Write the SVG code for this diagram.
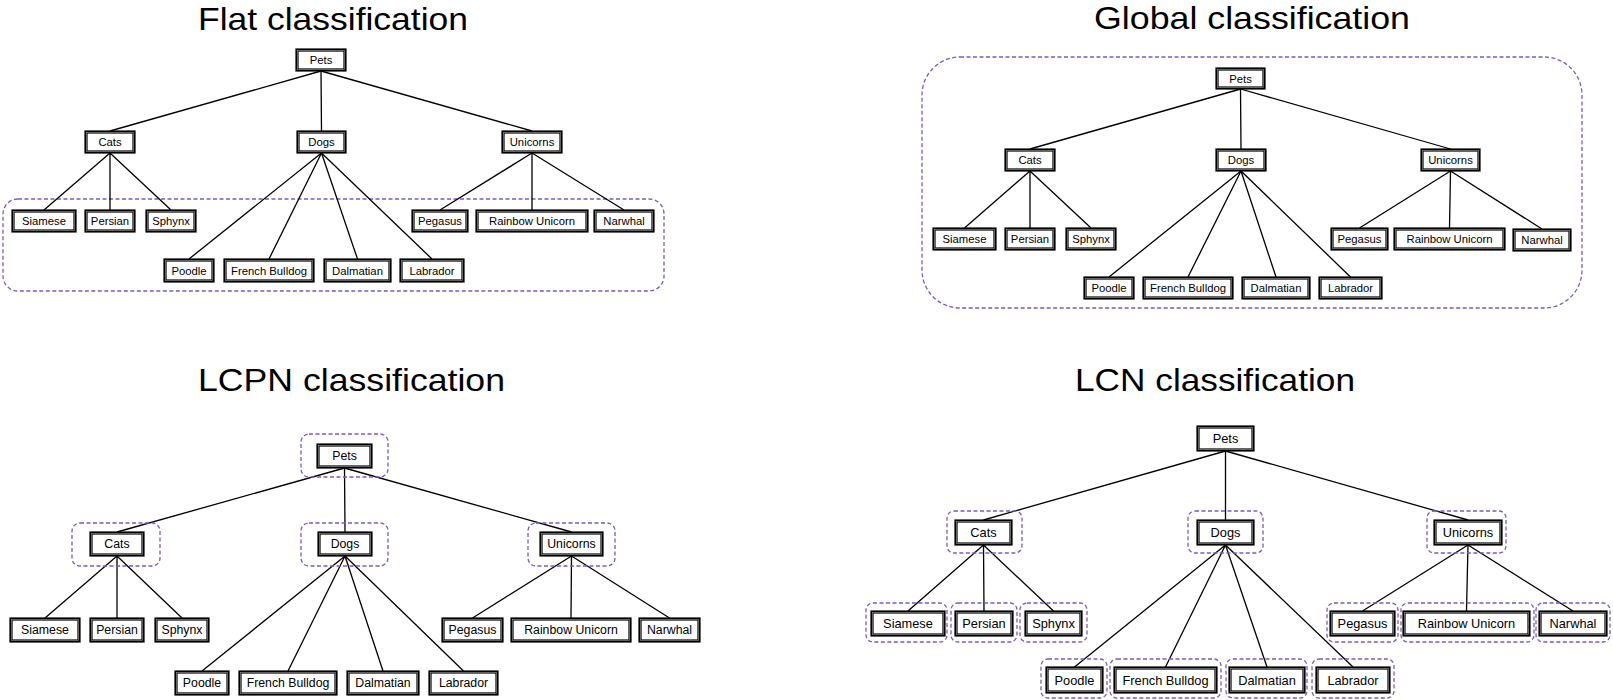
<svg xmlns="http://www.w3.org/2000/svg" width="1613" height="700" viewBox="0 0 1613 700">
<style>
.bg{fill:#fff}
.title{font-family:"Liberation Sans",Arial,sans-serif;font-size:32px;fill:#000;text-anchor:middle}
.bo{fill:#fff;stroke:#000;stroke-width:3.2}
.bi{fill:none;stroke:#8a8a8a;stroke-width:0.7}
.t{font-family:"Liberation Sans",Arial,sans-serif;fill:#000;text-anchor:middle}
.s11{font-size:11.3px}.s12{font-size:12.3px}.s125{font-size:12.8px}
.ln{stroke:#000;stroke-width:1.3;fill:none}
.dash{fill:none;stroke:#7b58c6;stroke-width:1.3;stroke-dasharray:4 2.5}
</style>
<rect class="bg" x="0" y="0" width="1613" height="700"/>

<!-- ===== Flat ===== -->
<text class="title" x="333" y="29.5" textLength="270" lengthAdjust="spacingAndGlyphs">Flat classification</text>
<g id="flat-leaf-set"><rect class="dash" x="3" y="199" width="661" height="92" rx="15"/></g>
<g id="flat-connectors">
<path class="ln" d="M321,71L110,131M321,71L321.5,131M321,71L532,131M110,153L44,210M110,153L110,210M110,153L171,210M321.5,153L189,259M321.5,153L269,259M321.5,153L357.5,259M321.5,153L432,259M532,153L440,210M532,153L532,210M532,153L624,210"/>
</g>
<g id="flat-pets"><rect class="bo" x="297" y="50" width="48" height="20"/><rect class="bi" x="297.6" y="50.6" width="46.8" height="18.8"/><text class="t s11" x="321" y="64">Pets</text></g>
<g id="flat-cats"><rect class="bo" x="86" y="132" width="48" height="20"/><rect class="bi" x="86.6" y="132.6" width="46.8" height="18.8"/><text class="t s11" x="110" y="146">Cats</text></g>
<g id="flat-dogs"><rect class="bo" x="298" y="132" width="47" height="20"/><rect class="bi" x="298.6" y="132.6" width="45.8" height="18.8"/><text class="t s11" x="321.5" y="146">Dogs</text></g>
<g id="flat-unicorns"><rect class="bo" x="503" y="132" width="58" height="20"/><rect class="bi" x="503.6" y="132.6" width="56.8" height="18.8"/><text class="t s11" x="532" y="146">Unicorns</text></g>
<g id="flat-siamese"><rect class="bo" x="13" y="211" width="62" height="20"/><rect class="bi" x="13.6" y="211.6" width="60.8" height="18.8"/><text class="t s11" x="44" y="225">Siamese</text></g>
<g id="flat-persian"><rect class="bo" x="86" y="211" width="48" height="20"/><rect class="bi" x="86.6" y="211.6" width="46.8" height="18.8"/><text class="t s11" x="110" y="225">Persian</text></g>
<g id="flat-sphynx"><rect class="bo" x="147" y="211" width="48" height="20"/><rect class="bi" x="147.6" y="211.6" width="46.8" height="18.8"/><text class="t s11" x="171" y="225">Sphynx</text></g>
<g id="flat-pegasus"><rect class="bo" x="413" y="211" width="54" height="20"/><rect class="bi" x="413.6" y="211.6" width="52.8" height="18.8"/><text class="t s11" x="440" y="225">Pegasus</text></g>
<g id="flat-rainbow"><rect class="bo" x="477" y="211" width="110" height="20"/><rect class="bi" x="477.6" y="211.6" width="108.8" height="18.8"/><text class="t s11" x="532" y="225">Rainbow Unicorn</text></g>
<g id="flat-narwhal"><rect class="bo" x="595" y="211" width="58" height="20"/><rect class="bi" x="595.6" y="211.6" width="56.8" height="18.8"/><text class="t s11" x="624" y="225">Narwhal</text></g>
<g id="flat-poodle"><rect class="bo" x="165" y="260" width="48" height="21"/><rect class="bi" x="165.6" y="260.6" width="46.8" height="19.8"/><text class="t s11" x="189" y="274.5">Poodle</text></g>
<g id="flat-frenchbulldog"><rect class="bo" x="225" y="260" width="88" height="21"/><rect class="bi" x="225.6" y="260.6" width="86.8" height="19.8"/><text class="t s11" x="269" y="274.5">French Bulldog</text></g>
<g id="flat-dalmatian"><rect class="bo" x="325" y="260" width="65" height="21"/><rect class="bi" x="325.6" y="260.6" width="63.8" height="19.8"/><text class="t s11" x="357.5" y="274.5">Dalmatian</text></g>
<g id="flat-labrador"><rect class="bo" x="401" y="260" width="62" height="21"/><rect class="bi" x="401.6" y="260.6" width="60.8" height="19.8"/><text class="t s11" x="432" y="274.5">Labrador</text></g>

<!-- ===== Global ===== -->
<text class="title" x="1252" y="29" textLength="316" lengthAdjust="spacingAndGlyphs">Global classification</text>
<g id="global-set"><rect class="dash" x="922" y="57" width="660" height="251" rx="38"/></g>
<g id="global-connectors">
<path class="ln" d="M1240.5,89L1030,149M1240.5,89L1241,149M1240.5,89L1450.5,149M1030,171L964.5,228M1030,171L1030,228M1030,171L1091,228M1241,171L1109,277M1241,171L1188,277M1241,171L1276,277M1241,171L1350.5,277M1450.5,171L1359.5,228M1450.5,171L1449.5,228M1450.5,171L1542,229"/>
</g>
<g id="global-pets"><rect class="bo" x="1217" y="69" width="47" height="19"/><rect class="bi" x="1217.6" y="69.6" width="45.8" height="17.8"/><text class="t s11" x="1240.5" y="82.5">Pets</text></g>
<g id="global-cats"><rect class="bo" x="1006" y="150" width="48" height="20"/><rect class="bi" x="1006.6" y="150.6" width="46.8" height="18.8"/><text class="t s11" x="1030" y="164">Cats</text></g>
<g id="global-dogs"><rect class="bo" x="1217" y="150" width="48" height="20"/><rect class="bi" x="1217.6" y="150.6" width="46.8" height="18.8"/><text class="t s11" x="1241" y="164">Dogs</text></g>
<g id="global-unicorns"><rect class="bo" x="1422" y="150" width="57" height="20"/><rect class="bi" x="1422.6" y="150.6" width="55.8" height="18.8"/><text class="t s11" x="1450.5" y="164">Unicorns</text></g>
<g id="global-siamese"><rect class="bo" x="934" y="229" width="61" height="20"/><rect class="bi" x="934.6" y="229.6" width="59.8" height="18.8"/><text class="t s11" x="964.5" y="243">Siamese</text></g>
<g id="global-persian"><rect class="bo" x="1006" y="229" width="48" height="20"/><rect class="bi" x="1006.6" y="229.6" width="46.8" height="18.8"/><text class="t s11" x="1030" y="243">Persian</text></g>
<g id="global-sphynx"><rect class="bo" x="1067" y="229" width="48" height="20"/><rect class="bi" x="1067.6" y="229.6" width="46.8" height="18.8"/><text class="t s11" x="1091" y="243">Sphynx</text></g>
<g id="global-pegasus"><rect class="bo" x="1332" y="229" width="55" height="20"/><rect class="bi" x="1332.6" y="229.6" width="53.8" height="18.8"/><text class="t s11" x="1359.5" y="243">Pegasus</text></g>
<g id="global-rainbow"><rect class="bo" x="1395" y="229" width="109" height="20"/><rect class="bi" x="1395.6" y="229.6" width="107.8" height="18.8"/><text class="t s11" x="1449.5" y="243">Rainbow Unicorn</text></g>
<g id="global-narwhal"><rect class="bo" x="1514" y="230" width="56" height="20"/><rect class="bi" x="1514.6" y="230.6" width="54.8" height="18.8"/><text class="t s11" x="1542" y="244">Narwhal</text></g>
<g id="global-poodle"><rect class="bo" x="1085" y="278" width="48" height="20"/><rect class="bi" x="1085.6" y="278.6" width="46.8" height="18.8"/><text class="t s11" x="1109" y="292">Poodle</text></g>
<g id="global-frenchbulldog"><rect class="bo" x="1144" y="278" width="88" height="20"/><rect class="bi" x="1144.6" y="278.6" width="86.8" height="18.8"/><text class="t s11" x="1188" y="292">French Bulldog</text></g>
<g id="global-dalmatian"><rect class="bo" x="1243" y="278" width="66" height="20"/><rect class="bi" x="1243.6" y="278.6" width="64.8" height="18.8"/><text class="t s11" x="1276" y="292">Dalmatian</text></g>
<g id="global-labrador"><rect class="bo" x="1320" y="278" width="61" height="20"/><rect class="bi" x="1320.6" y="278.6" width="59.8" height="18.8"/><text class="t s11" x="1350.5" y="292">Labrador</text></g>

<!-- ===== LCPN ===== -->
<text class="title" x="351.5" y="391" textLength="307" lengthAdjust="spacingAndGlyphs">LCPN classification</text>
<g id="lcpn-connectors">
<path class="ln" d="M344.5,468L117,532M344.5,468L345,532M344.5,468L571.5,532M117,556L45,618M117,556L117,618M117,556L182,618M345,556L202,671M345,556L288,671M345,556L383,671M345,556L463.5,671M571.5,556L472.5,618M571.5,556L571,618M571.5,556L669.5,618"/>
</g>
<g id="lcpn-pets"><rect class="dash" x="301" y="434" width="87" height="43" rx="8"/><rect class="bo" x="318" y="445" width="53" height="22"/><rect class="bi" x="318.6" y="445.6" width="51.8" height="20.8"/><text class="t s12" x="344.5" y="460.3">Pets</text></g>
<g id="lcpn-cats"><rect class="dash" x="72" y="523" width="88" height="43" rx="8"/><rect class="bo" x="91" y="533" width="52" height="22"/><rect class="bi" x="91.6" y="533.6" width="50.8" height="20.8"/><text class="t s12" x="117" y="548.3">Cats</text></g>
<g id="lcpn-dogs"><rect class="dash" x="301" y="523" width="87" height="43" rx="8"/><rect class="bo" x="319" y="533" width="52" height="22"/><rect class="bi" x="319.6" y="533.6" width="50.8" height="20.8"/><text class="t s12" x="345" y="548.3">Dogs</text></g>
<g id="lcpn-unicorns"><rect class="dash" x="528" y="523" width="87" height="43" rx="8"/><rect class="bo" x="541" y="533" width="61" height="22"/><rect class="bi" x="541.6" y="533.6" width="59.8" height="20.8"/><text class="t s12" x="571.5" y="548.3">Unicorns</text></g>
<g id="lcpn-siamese"><rect class="bo" x="11" y="619" width="68" height="22"/><rect class="bi" x="11.6" y="619.6" width="66.8" height="20.8"/><text class="t s12" x="45" y="634.3">Siamese</text></g>
<g id="lcpn-persian"><rect class="bo" x="91" y="619" width="52" height="22"/><rect class="bi" x="91.6" y="619.6" width="50.8" height="20.8"/><text class="t s12" x="117" y="634.3">Persian</text></g>
<g id="lcpn-sphynx"><rect class="bo" x="156" y="619" width="52" height="22"/><rect class="bi" x="156.6" y="619.6" width="50.8" height="20.8"/><text class="t s12" x="182" y="634.3">Sphynx</text></g>
<g id="lcpn-pegasus"><rect class="bo" x="443" y="619" width="59" height="22"/><rect class="bi" x="443.6" y="619.6" width="57.8" height="20.8"/><text class="t s12" x="472.5" y="634.3">Pegasus</text></g>
<g id="lcpn-rainbow"><rect class="bo" x="512" y="619" width="118" height="22"/><rect class="bi" x="512.6" y="619.6" width="116.8" height="20.8"/><text class="t s12" x="571" y="634.3">Rainbow Unicorn</text></g>
<g id="lcpn-narwhal"><rect class="bo" x="640" y="619" width="59" height="22"/><rect class="bi" x="640.6" y="619.6" width="57.8" height="20.8"/><text class="t s12" x="669.5" y="634.3">Narwhal</text></g>
<g id="lcpn-poodle"><rect class="bo" x="176" y="672" width="52" height="22"/><rect class="bi" x="176.6" y="672.6" width="50.8" height="20.8"/><text class="t s12" x="202" y="687.3">Poodle</text></g>
<g id="lcpn-frenchbulldog"><rect class="bo" x="240" y="672" width="96" height="22"/><rect class="bi" x="240.6" y="672.6" width="94.8" height="20.8"/><text class="t s12" x="288" y="687.3">French Bulldog</text></g>
<g id="lcpn-dalmatian"><rect class="bo" x="348" y="672" width="70" height="22"/><rect class="bi" x="348.6" y="672.6" width="68.8" height="20.8"/><text class="t s12" x="383" y="687.3">Dalmatian</text></g>
<g id="lcpn-labrador"><rect class="bo" x="430" y="672" width="67" height="22"/><rect class="bi" x="430.6" y="672.6" width="65.8" height="20.8"/><text class="t s12" x="463.5" y="687.3">Labrador</text></g>

<!-- ===== LCN ===== -->
<text class="title" x="1215" y="391" textLength="280" lengthAdjust="spacingAndGlyphs">LCN classification</text>
<g id="lcn-connectors">
<path class="ln" d="M1225.5,451L983.5,520M1225.5,451L1225.5,520M1225.5,451L1468,520M983.5,545L908,611M983.5,545L984,611M983.5,545L1053.5,611M1225.5,545L1074.5,667M1225.5,545L1165.5,667M1225.5,545L1267,667M1225.5,545L1353,667M1468,545L1362.5,611M1468,545L1466.5,611M1468,545L1573,611"/>
</g>
<g id="lcn-pets"><rect class="bo" x="1198" y="427" width="55" height="23"/><rect class="bi" x="1198.6" y="427.6" width="53.8" height="21.8"/><text class="t s125" x="1225.5" y="443">Pets</text></g>
<g id="lcn-cats"><rect class="dash" x="947" y="511" width="75" height="42" rx="7"/><rect class="bo" x="956" y="521" width="55" height="23"/><rect class="bi" x="956.6" y="521.6" width="53.8" height="21.8"/><text class="t s125" x="983.5" y="537">Cats</text></g>
<g id="lcn-dogs"><rect class="dash" x="1188" y="511" width="75" height="42" rx="7"/><rect class="bo" x="1198" y="521" width="55" height="23"/><rect class="bi" x="1198.6" y="521.6" width="53.8" height="21.8"/><text class="t s125" x="1225.5" y="537">Dogs</text></g>
<g id="lcn-unicorns"><rect class="dash" x="1427" y="511" width="79" height="42" rx="7"/><rect class="bo" x="1435" y="521" width="66" height="23"/><rect class="bi" x="1435.6" y="521.6" width="64.8" height="21.8"/><text class="t s125" x="1468" y="537">Unicorns</text></g>
<g id="lcn-siamese"><rect class="dash" x="866" y="603" width="81" height="39" rx="7"/><rect class="bo" x="872" y="612" width="72" height="23"/><rect class="bi" x="872.6" y="612.6" width="70.8" height="21.8"/><text class="t s125" x="908" y="628">Siamese</text></g>
<g id="lcn-persian"><rect class="dash" x="951" y="603" width="66" height="39" rx="7"/><rect class="bo" x="956" y="612" width="56" height="23"/><rect class="bi" x="956.6" y="612.6" width="54.8" height="21.8"/><text class="t s125" x="984" y="628">Persian</text></g>
<g id="lcn-sphynx"><rect class="dash" x="1020" y="603" width="67" height="39" rx="7"/><rect class="bo" x="1026" y="612" width="55" height="23"/><rect class="bi" x="1026.6" y="612.6" width="53.8" height="21.8"/><text class="t s125" x="1053.5" y="628">Sphynx</text></g>
<g id="lcn-pegasus"><rect class="dash" x="1327" y="603" width="71" height="39" rx="7"/><rect class="bo" x="1331" y="612" width="63" height="23"/><rect class="bi" x="1331.6" y="612.6" width="61.8" height="21.8"/><text class="t s125" x="1362.5" y="628">Pegasus</text></g>
<g id="lcn-rainbow"><rect class="dash" x="1401" y="603" width="133" height="39" rx="7"/><rect class="bo" x="1404" y="612" width="125" height="23"/><rect class="bi" x="1404.6" y="612.6" width="123.8" height="21.8"/><text class="t s125" x="1466.5" y="628">Rainbow Unicorn</text></g>
<g id="lcn-narwhal"><rect class="dash" x="1536" y="603" width="74" height="39" rx="7"/><rect class="bo" x="1540" y="612" width="66" height="23"/><rect class="bi" x="1540.6" y="612.6" width="64.8" height="21.8"/><text class="t s125" x="1573" y="628">Narwhal</text></g>
<g id="lcn-poodle"><rect class="dash" x="1041" y="659" width="66" height="39" rx="7"/><rect class="bo" x="1047" y="668" width="55" height="24"/><rect class="bi" x="1047.6" y="668.6" width="53.8" height="22.8"/><text class="t s125" x="1074.5" y="684.5">Poodle</text></g>
<g id="lcn-frenchbulldog"><rect class="dash" x="1110" y="659" width="111" height="39" rx="7"/><rect class="bo" x="1115" y="668" width="101" height="24"/><rect class="bi" x="1115.6" y="668.6" width="99.8" height="22.8"/><text class="t s125" x="1165.5" y="684.5">French Bulldog</text></g>
<g id="lcn-dalmatian"><rect class="dash" x="1226" y="659" width="81" height="39" rx="7"/><rect class="bo" x="1230" y="668" width="74" height="24"/><rect class="bi" x="1230.6" y="668.6" width="72.8" height="22.8"/><text class="t s125" x="1267" y="684.5">Dalmatian</text></g>
<g id="lcn-labrador"><rect class="dash" x="1312" y="659" width="82" height="39" rx="7"/><rect class="bo" x="1317" y="668" width="72" height="24"/><rect class="bi" x="1317.6" y="668.6" width="70.8" height="22.8"/><text class="t s125" x="1353" y="684.5">Labrador</text></g>
</svg>
